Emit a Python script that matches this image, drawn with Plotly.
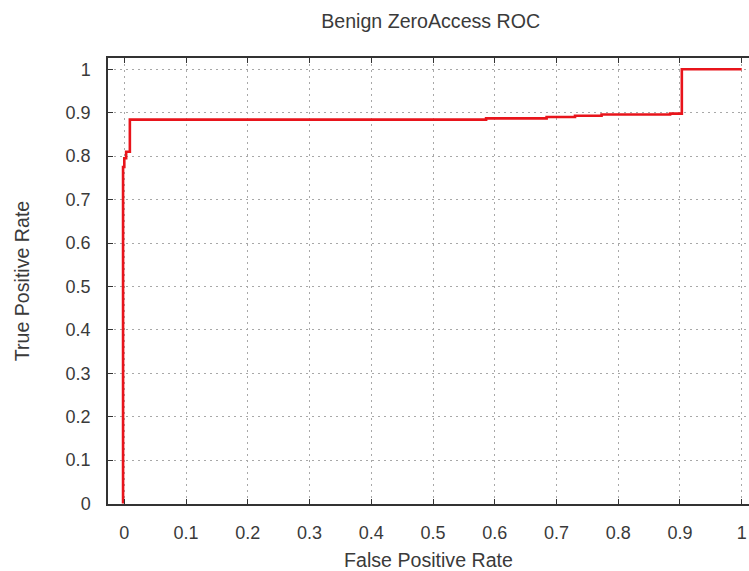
import plotly.graph_objects as go

# ROC curve for the benign ZeroAccess classifier (step function)
fpr = [-0.002, -0.002, 0.000, 0.003, 0.009, 0.586, 0.684, 0.730, 0.773, 0.884, 0.903, 1.000]
tpr = [0.000, 0.775, 0.795, 0.810, 0.884, 0.887, 0.890, 0.893, 0.896, 0.898, 1.000, 1.000]

x_ticks = [0, 0.1, 0.2, 0.3, 0.4, 0.5, 0.6, 0.7, 0.8, 0.9, 1]
x_tick_labels = ["0", "0.1", "0.2", "0.3", "0.4", "0.5", "0.6", "0.7", "0.8", "0.9", "1"]
y_ticks = [0, 0.1, 0.2, 0.3, 0.4, 0.5, 0.6, 0.7, 0.8, 0.9, 1]
y_tick_labels = ["0", "0.1", "0.2", "0.3", "0.4", "0.5", "0.6", "0.7", "0.8", "0.9", "1"]

FONT = "Liberation Sans, Arial, sans-serif"
TEXT = "#3a3a3a"
GRID = "#a8a8a8"
AXIS = "#333333"
TITLE_SIZE = 19.6

fig = go.Figure()
fig.add_trace(go.Scatter(
    x=fpr, y=tpr, mode="lines",
    line=dict(color="#e8141b", width=2.6, shape="hv"),
    showlegend=False, hoverinfo="x+y",
))

common = dict(
    showgrid=True, gridcolor=GRID, gridwidth=1, griddash="2px,4px",
    zeroline=False, showline=True, linecolor=AXIS, linewidth=1.5,
    ticks="inside", ticklen=5, tickwidth=1.2, tickcolor=AXIS,
    tickfont=dict(family=FONT, size=18, color=TEXT),
)

fig.update_xaxes(
    range=[-0.0264, 1.0118], tickvals=x_ticks, ticktext=x_tick_labels,
    mirror="allticks", ticklabelstandoff=12,
    title=dict(text="False Positive Rate", font=dict(family=FONT, size=TITLE_SIZE, color=TEXT), standoff=13),
    **common,
)
fig.update_yaxes(
    range=[-0.001, 1.026], tickvals=y_ticks, ticktext=y_tick_labels,
    mirror=False, ticklabelstandoff=12,
    title=dict(text="True Positive Rate", font=dict(family=FONT, size=TITLE_SIZE, color=TEXT), standoff=31),
    **common,
)

fig.update_layout(
    width=749, height=571,
    margin=dict(l=108, r=0, t=58, b=67, pad=0),
    paper_bgcolor="white", plot_bgcolor="white",
    title=dict(
        text="Benign ZeroAccess ROC", x=430.7 / 749, xref="container", xanchor="center",
        y=1 - 21 / 571, yref="container", yanchor="middle",
        font=dict(family=FONT, size=TITLE_SIZE, color=TEXT),
    ),
)

fig.write_html("out.html")
